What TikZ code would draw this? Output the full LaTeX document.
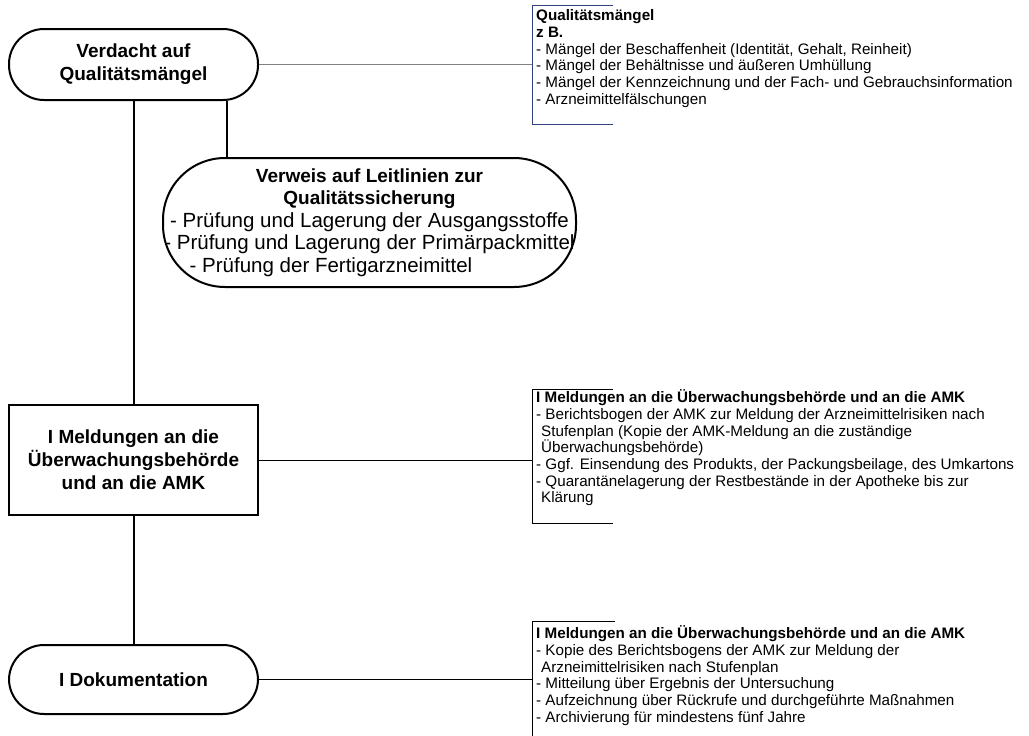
\documentclass[tikz,border=0pt]{standalone}
\usepackage{fontspec}
\setmainfont{Liberation Sans}
\definecolor{linkgray}{RGB}{128,128,128}
\definecolor{bracketblue}{RGB}{50,65,125}

\begin{document}
\begin{tikzpicture}[x=1pt,y=-1pt,
  every node/.style={inner sep=0pt},
  stadium/.style={draw, line width=2pt, rounded corners=35pt, minimum width=249pt, minimum height=71pt, align=center, font=\bfseries\fontsize{19}{23}\selectfont},
  stepbox/.style={draw, line width=2pt, minimum width=249pt, minimum height=110pt, align=center, font=\bfseries\fontsize{19}{23}\selectfont},
  note/.style={anchor=north west, align=left, font=\fontsize{15.2}{16.7}\selectfont},
  link/.style={line width=2pt},
  tie/.style={line width=1pt}]
\useasboundingbox (0,0) rectangle (1029,736);

% Define the steps of the procedure
\node[stadium] (verdacht) at (133.5,64.5) {Verdacht auf\\Qualitätsmängel};
\node[stadium, minimum width=413pt, minimum height=129pt, rounded corners=62pt, font=\fontsize{20.5}{22.5}\selectfont] (verweis) at (369.5,222.5)
  {{\bfseries\fontsize{19}{23}\selectfont Verweis auf Leitlinien zur}\\
   {\bfseries\fontsize{19}{23}\selectfont Qualitätssicherung}\\
   - Prüfung und Lagerung der Ausgangsstoffe\\
   - Prüfung und Lagerung der Primärpackmittel\hspace*{-8pt}\\
   - Prüfung der Fertigarzneimittel\hspace*{77pt}};
\node[stepbox] (meldung) at (133.5,460) {I Meldungen an die\\Überwachungsbehörde\\und an die AMK};
\node[stadium, minimum height=69pt] (doku) at (133.5,679.5) {I Dokumentation};

% Notes beside the steps
\node[note] (infoQ) at (536,9.5) {\textbf{Qualitätsmängel}\\
  \textbf{z B.}\\
  - Mängel der Beschaffenheit (Identität, Gehalt, Reinheit)\\
  - Mängel der Behältnisse und äußeren Umhüllung\\
  - Mängel der Kennzeichnung und der Fach- und Gebrauchsinformation\\
  - Arzneimittelfälschungen};
\node[note] (infoM) at (536,389.5) {\textbf{I Meldungen an die Überwachungsbehörde und an die AMK}\\
  - Berichtsbogen der AMK zur Meldung der Arzneimittelrisiken nach\\
  \hspace*{5pt}Stufenplan (Kopie der AMK-Meldung an die zuständige\\
  \hspace*{5pt}Überwachungsbehörde)\\
  - Ggf. Einsendung des Produkts, der Packungsbeilage, des Umkartons\\
  - Quarantänelagerung der Restbestände in der Apotheke bis zur\\
  \hspace*{5pt}Klärung};
\node[note] (infoD) at (536,625.5) {\textbf{I Meldungen an die Überwachungsbehörde und an die AMK}\\
  - Kopie des Berichtsbogens der AMK zur Meldung der\\
  \hspace*{5pt}Arzneimittelrisiken nach Stufenplan\\
  - Mitteilung über Ergebnis der Untersuchung\\
  - Aufzeichnung über Rückrufe und durchgeführte Maßnahmen\\
  - Archivierung für mindestens fünf Jahre};

% Brackets round the notes
\draw[tie, bracketblue] (613,5) -- (532,5) -- (532,124) -- (613,124);
\draw[tie] (613,389) -- (532,389) -- (532,523) -- (613,523);
\draw[tie] (615,621) -- (532,621) -- (532,736);
\coordinate (bQ) at (532,64.5);
\coordinate (bM) at (532,460);
\coordinate (bD) at (532,679.5);
\coordinate (split) at (227,0);

% Draw the connections
\draw[link] (verdacht) -- (meldung);
\draw[link] (meldung) -- (doku);
\draw[link] (verdacht.south -| split) -- (verweis.north -| split);
\draw[tie, linkgray] (verdacht) -- (bQ);
\draw[tie] (meldung) -- (bM);
\draw[tie] (doku) -- (bD);
\end{tikzpicture}
\end{document}
